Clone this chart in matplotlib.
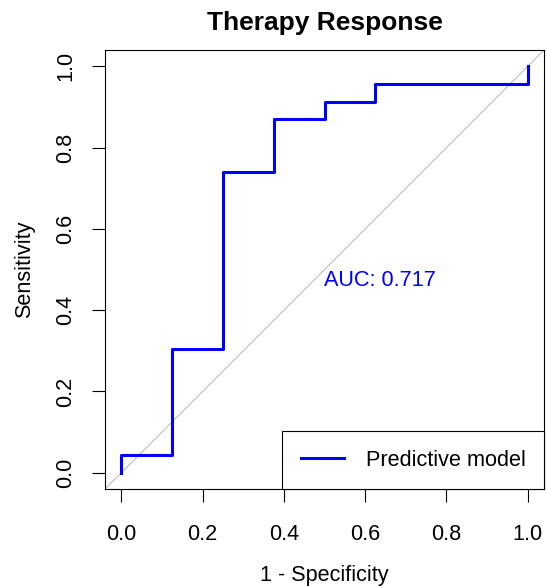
import matplotlib
matplotlib.use("Agg")
import matplotlib.pyplot as plt

# ROC curve corners (vertical step first, then horizontal)
fpr = [0.0, 0.125, 0.25, 0.375, 0.5, 0.625, 1.0, 1.0]
tpr = [0.0, 0.043, 0.304, 0.739, 0.870, 0.913, 0.957, 1.0]
auc = 0.717
ticks = [0.0, 0.2, 0.4, 0.6, 0.8, 1.0]
tick_labels = ["0.0", "0.2", "0.4", "0.6", "0.8", "1.0"]

plt.rcParams["font.family"] = ["Liberation Sans", "DejaVu Sans"]
fs = 15.6

fig = plt.figure(figsize=(5.46, 5.86), dpi=100)
ax = fig.add_axes([105 / 546, 1 - 489 / 586, 439 / 546, 439 / 586])

ax.axline((0, 0), (1, 1), color="#BEBEBE", lw=0.8, zorder=1)
ax.plot(fpr, tpr, drawstyle="steps-pre", color="#0000FF", lw=2.2,
        label="Predictive model", zorder=3)
ax.text(0.5, 0.5, f"AUC: {auc:.3f}", color="#0000FF", fontsize=fs,
        ha="left", va="top")

ax.set_xlim(-0.04, 1.04)
ax.set_ylim(-0.04, 1.04)
ax.set_xticks(ticks)
ax.set_xticklabels(tick_labels)
ax.set_yticks(ticks)
ax.set_yticklabels(tick_labels, rotation=90, va="center")
ax.tick_params(axis="x", direction="out", length=9.5, width=0.8, pad=16, labelsize=fs)
ax.tick_params(axis="y", direction="out", length=9.5, width=0.8, pad=11, labelsize=fs)
for s in ax.spines.values():
    s.set_linewidth(0.8)

ax.set_xlabel("1 - Specificity", fontsize=fs, va="center")
ax.set_ylabel("Sensitivity", fontsize=fs, va="center")
ax.xaxis.set_label_coords(0.5, (489 - 575) / 439)
ax.yaxis.set_label_coords((25 - 105) / 439, 0.5)
ax.set_title("Therapy Response", fontsize=19, fontweight="bold", pad=14.5)

leg = ax.legend(loc="lower right", fontsize=fs, frameon=True, fancybox=False,
                framealpha=1, edgecolor="black", borderaxespad=0,
                handlelength=2.0, handletextpad=1.0, borderpad=0.85)
leg.get_frame().set_linewidth(0.8)

fig.savefig("out.png", dpi=100)
